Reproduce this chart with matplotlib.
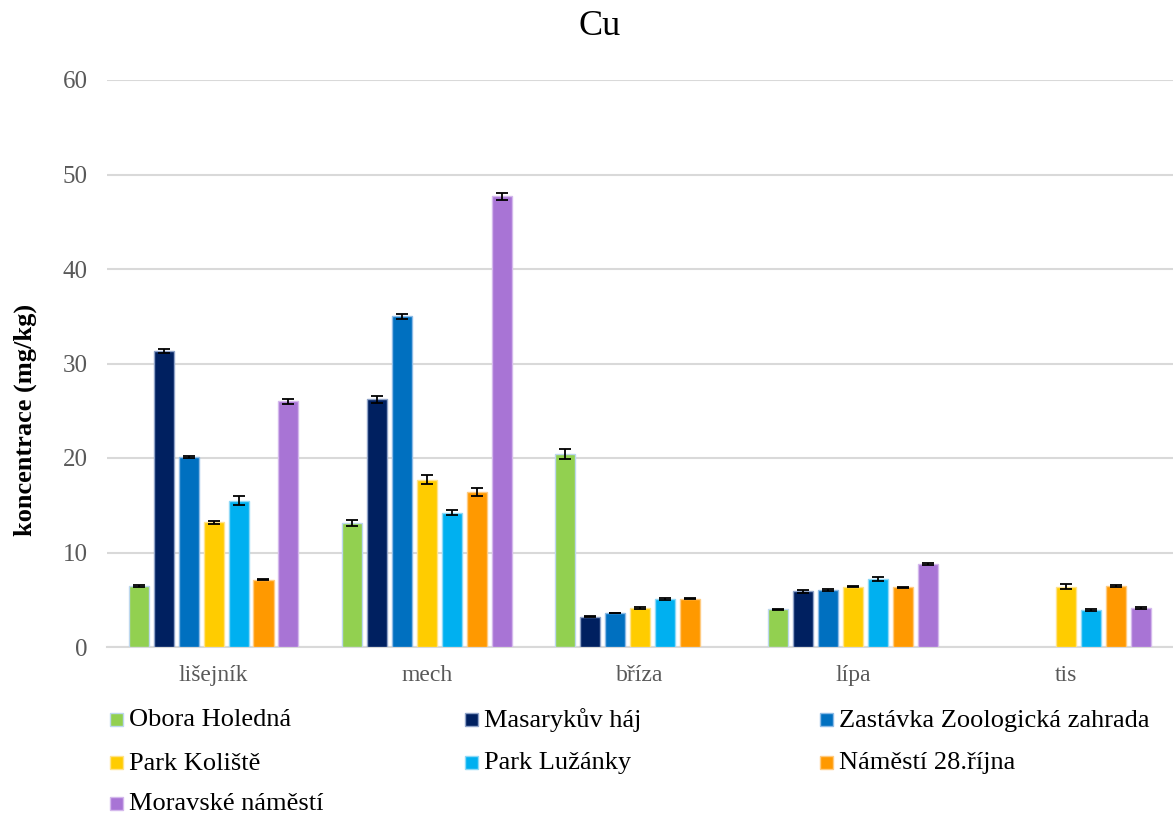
import numpy as np
import matplotlib
matplotlib.use('Agg')
import matplotlib.pyplot as plt
from matplotlib.patches import Rectangle

plt.rcParams['font.family'] = ['Liberation Serif', 'DejaVu Serif']

categories = ['lišejník', 'mech', 'bříza', 'lípa', 'tis']
sites = ['Obora Holedná', 'Masarykův háj', 'Zastávka Zoologická zahrada',
         'Park Koliště', 'Park Lužánky', 'Náměstí 28.října', 'Moravské náměstí']

# concentration per site, one value per category (nan = no sample)
oboraHoledna = [6.5, 13.1, 20.4, 4.0, np.nan]
masarykuvHaj = [31.3, 26.2, 3.2, 5.9, np.nan]
zastavkaZoo = [20.1, 35.0, 3.6, 6.0, np.nan]
parkKoliste = [13.2, 17.7, 4.1, 6.4, 6.4]
parkLuzanky = [15.5, 14.2, 5.1, 7.2, 3.9]
namesti28rijna = [7.1, 16.4, 5.1, 6.3, 6.5]
moravskeNamesti = [26.0, 47.7, np.nan, 8.8, 4.1]

# standard deviations (error bars)
oboraHolednaErr = [0.1, 0.3, 0.55, 0.05, np.nan]
masarykuvHajErr = [0.2, 0.4, 0.05, 0.15, np.nan]
zastavkaZooErr = [0.15, 0.25, 0.05, 0.1, np.nan]
parkKolisteErr = [0.15, 0.45, 0.1, 0.1, 0.22]
parkLuzankyErr = [0.5, 0.25, 0.1, 0.25, 0.1]
namesti28rijnaErr = [0.05, 0.42, 0.05, 0.1, 0.1]
moravskeNamestiErr = [0.25, 0.37, np.nan, 0.12, 0.1]

values = [oboraHoledna, masarykuvHaj, zastavkaZoo, parkKoliste, parkLuzanky, namesti28rijna, moravskeNamesti]
errors = [oboraHolednaErr, masarykuvHajErr, zastavkaZooErr, parkKolisteErr, parkLuzankyErr, namesti28rijnaErr, moravskeNamestiErr]
colors = ['#92D050', '#002060', '#0070C0', '#FFCC00', '#00B0F0', '#FF9900', '#A874D5']
edgeColors = ['#BDD7EE', '#8FA3C8', '#8DBBE6', '#FFE38A', '#8ED9F7', '#FFCB80', '#D4B8EC']

W, H = 1173, 816
fig = plt.figure(figsize=(W / 100, H / 100), dpi=100)
ax = fig.add_axes([107 / W, 1 - 647 / H, 1 - 107 / W, (647 - 80) / H])

x = np.arange(len(categories))
step = 0.117
width = 0.094
for i, (vals, errs) in enumerate(zip(values, errors)):
    pos = x + (i - 3) * step
    ax.bar(pos, vals, width, color=colors[i], edgecolor=edgeColors[i], linewidth=1.0, zorder=3)
    ax.errorbar(pos, vals, yerr=errs, fmt='none', ecolor='black', elinewidth=1.3,
                capsize=4.5, capthick=1.3, zorder=4)

ax.set_xlim(-0.5, 4.5)
ax.set_ylim(0, 60)
ax.set_yticks(range(0, 61, 10))
ax.set_xticks(x)
ax.set_xticklabels(categories)
ax.yaxis.grid(True, color='#D9D9D9', linewidth=1.5, zorder=0)
ax.set_axisbelow(True)
for side in ['top', 'right', 'left']:
    ax.spines[side].set_visible(False)
ax.spines['bottom'].set_color('#D9D9D9')
ax.spines['bottom'].set_linewidth(1.5)
ax.tick_params(axis='both', length=0, labelsize=18, labelcolor='#595959')
ax.tick_params(axis='y', pad=14)
ax.tick_params(axis='x', labelsize=17, pad=13)

fig.text(0.511, 0.968, 'Cu', ha='center', va='center', fontsize=26)
fig.text(25 / W, 1 - 420 / H, 'koncentrace (mg/kg)', rotation=90, ha='center', va='center',
         fontsize=19, fontweight='bold')

# legend drawn by hand: 3 columns, filled row by row like Excel
columnX = [110, 465, 820]
rowY = [719, 762, 803]
box = 13
for k, site in enumerate(sites):
    cx = columnX[k % 3]
    cy = rowY[k // 3]
    fig.add_artist(Rectangle((cx / W, 1 - (cy + box / 2) / H), box / W, box / H,
                             facecolor=colors[k], edgecolor=edgeColors[k], linewidth=1.0,
                             transform=fig.transFigure))
    fig.text((cx + box + 6) / W, 1 - (cy + box / 2 + 1) / H, site, ha='left', va='baseline',
             fontsize=19)

fig.savefig('out.png', dpi=100)
